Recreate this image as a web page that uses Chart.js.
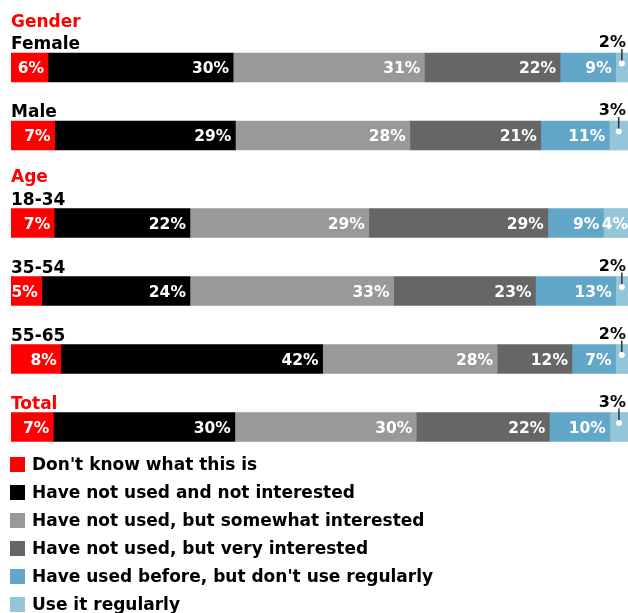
<!DOCTYPE html>
<html><head><meta charset="utf-8">
<script src="https://cdn.jsdelivr.net/npm/chart.js@4/dist/chart.umd.min.js"></script>
<style>html,body{margin:0;padding:0;background:#fff;}</style>
</head><body>
<canvas id="c" width="628" height="613"></canvas>
<script>
// ---- data ----
const categories = ['Female', 'Male', '18-34', '35-54', '55-65', 'Total'];
const groupOf = ['Gender', 'Gender', 'Age', 'Age', 'Age', 'Total'];
const seriesNames = [
  "Don't know what this is",
  'Have not used and not interested',
  'Have not used, but somewhat interested',
  'Have not used, but very interested',
  "Have used before, but don't use regularly",
  'Use it regularly'
];
const dontKnow      = [6, 7, 7, 5, 8, 7];
const notInterested = [30, 29, 22, 24, 42, 30];
const somewhat      = [31, 28, 29, 33, 28, 30];
const veryInterest  = [22, 21, 29, 23, 12, 22];
const usedBefore    = [9, 11, 9, 13, 7, 10];
const regularly     = [2, 3, 4, 2, 2, 3];
const seriesValues = [dontKnow, notInterested, somewhat, veryInterest, usedBefore, regularly];
const seriesColors = ['#ff0000', '#000000', '#999999', '#666666', '#62a6c8', '#95c5d8'];

// ---- layout helpers ----
const FONT = '"DejaVu Sans", Verdana, sans-serif';
const RED = '#ff0000';
const unitPx = 68, firstCenter = 67.5, areaH = 450, headerGap = 0.287;
// row positions on the index axis: one unit per row, extra space for separate group headers
const rowPos = [];
(function () {
  let extra = 0;
  for (let i = 0; i < categories.length; i++) {
    const g = groupOf[i];
    if (i > 0 && g !== groupOf[i - 1] && g !== categories[i]) extra += headerGap;
    rowPos.push(i + extra);
  }
})();
const rowSums = categories.map((_, i) => seriesValues.reduce((s, arr) => s + arr[i], 0));

const datasets = seriesNames.map((name, k) => ({
  label: name,
  backgroundColor: seriesColors[k],
  borderWidth: 0,
  barThickness: 29,
  rawValues: seriesValues[k],
  data: seriesValues[k].map((v, i) => ({ x: v / rowSums[i] * 100, y: rowPos[i] }))
}));

const labelPlugin = {
  id: 'barLabels',
  afterDatasetsDraw(chart) {
    const ctx = chart.ctx;
    const area = chart.chartArea;
    ctx.save();
    // row labels and group headers
    const meta0 = chart.getDatasetMeta(0);
    categories.forEach((cat, i) => {
      const bar = meta0.data[i];
      const top = bar.y - bar.height / 2;
      ctx.font = 'bold 17px ' + FONT;
      ctx.textAlign = 'left';
      ctx.textBaseline = 'alphabetic';
      const isGroupRow = groupOf[i] === cat;
      ctx.fillStyle = isGroupRow ? RED : '#000';
      ctx.fillText(cat, area.left, top - 4);
      if (!isGroupRow && (i === 0 || groupOf[i] !== groupOf[i - 1])) {
        ctx.fillStyle = RED;
        ctx.fillText(groupOf[i], area.left, top - 26.5);
      }
    });
    // value labels
    chart.data.datasets.forEach((ds, k) => {
      const meta = chart.getDatasetMeta(k);
      meta.data.forEach((bar, i) => {
        const v = ds.rawValues[i];
        const txt = v + '%';
        const top = bar.y - bar.height / 2;
        const left = Math.min(bar.base, bar.x), right = Math.max(bar.base, bar.x);
        if (v <= 3) {
          const cx = (left + right) / 2;
          const cy = bar.y - 4;
          ctx.strokeStyle = '#333';
          ctx.lineWidth = 1.5;
          ctx.beginPath();
          ctx.moveTo(cx, top - 4);
          ctx.lineTo(cx, cy);
          ctx.stroke();
          ctx.fillStyle = '#fff';
          ctx.beginPath();
          ctx.arc(cx, cy, 3, 0, Math.PI * 2);
          ctx.fill();
          ctx.font = 'bold 16px ' + FONT;
          ctx.fillStyle = '#000';
          ctx.textAlign = 'right';
          ctx.textBaseline = 'alphabetic';
          ctx.fillText(txt, area.right - 2, top - 6);
        } else {
          ctx.font = 'bold 15.5px ' + FONT;
          ctx.fillStyle = '#fff';
          ctx.textAlign = 'right';
          ctx.textBaseline = 'middle';
          const pad = right >= area.right - 1 ? 0 : 4;
          ctx.fillText(txt, right - pad, bar.y + 1.5);
        }
      });
    });
    ctx.restore();
  },
  afterDraw(chart) {
    const ctx = chart.ctx;
    ctx.save();
    chart.data.datasets.forEach((ds, k) => {
      const cy = 464.5 + k * 28;
      ctx.fillStyle = ds.backgroundColor;
      ctx.fillRect(10, cy - 7.5, 15, 15);
      ctx.font = 'bold 17px ' + FONT;
      ctx.fillStyle = '#000';
      ctx.textAlign = 'left';
      ctx.textBaseline = 'middle';
      ctx.fillText(ds.label, 32, cy + 1);
    });
    ctx.restore();
  }
};

const yMin = -firstCenter / unitPx;
const yMax = yMin + areaH / unitPx;

new Chart(document.getElementById('c'), {
  type: 'bar',
  data: { datasets },
  options: {
    indexAxis: 'y',
    responsive: false,
    animation: false,
    devicePixelRatio: 1,
    layout: { padding: { left: 11, right: 0, top: 0, bottom: 613 - areaH } },
    scales: {
      x: { type: 'linear', min: 0, max: 100, stacked: true, display: false, offset: false },
      y: { type: 'linear', reverse: true, min: yMin, max: yMax, stacked: true, display: false, offset: false }
    },
    plugins: { legend: { display: false }, tooltip: { enabled: false } }
  },
  plugins: [labelPlugin]
});
</script>
</body></html>
